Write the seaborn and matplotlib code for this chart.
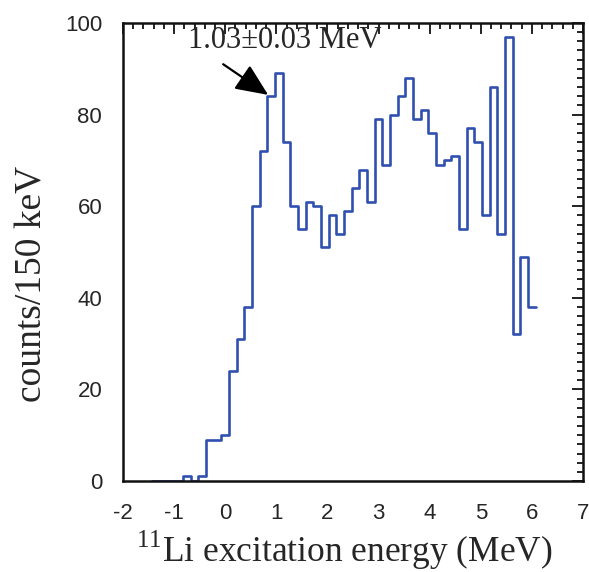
import numpy as np
import pandas as pd
import matplotlib
matplotlib.use("Agg")
import matplotlib.pyplot as plt
from matplotlib.ticker import MultipleLocator
import seaborn as sns

# Bin centres (MeV) and counts per 150 keV
bin_width = 0.15
centers = [-1.35, -1.2, -1.05, -0.9, -0.75, -0.6, -0.45, -0.3, -0.15, 0.0,
           0.15, 0.3, 0.45, 0.6, 0.75, 0.9, 1.05, 1.2, 1.35, 1.5,
           1.65, 1.8, 1.95, 2.1, 2.25, 2.4, 2.55, 2.7, 2.85, 3.0,
           3.15, 3.3, 3.45, 3.6, 3.75, 3.9, 4.05, 4.2, 4.35, 4.5,
           4.65, 4.8, 4.95, 5.1, 5.25, 5.4, 5.55, 5.7, 5.85, 6.0]
counts = [0, 0, 0, 0, 1, 0, 1, 9, 9, 10,
          24, 31, 38, 60, 72, 84, 89, 74, 60, 55,
          61, 60, 51, 58, 54, 59, 64, 68, 61, 79,
          69, 80, 84, 88, 79, 81, 76, 69, 70, 71,
          55, 77, 74, 58, 86, 54, 97, 32, 49, 38]

x_ticks = [-2, -1, 0, 1, 2, 3, 4, 5, 6, 7]
y_ticks = [0, 20, 40, 60, 80, 100]

annot_text = "1.03\u00b10.03 MeV"
arrow_tip = (0.84, 84.3)
arrow_tail = (-0.04, 91.0)
annot_text_xy = (-0.72, 96.2)

sns.set_style("white")
plt.rcParams["axes.unicode_minus"] = False
plt.rcParams["mathtext.fontset"] = "custom"
plt.rcParams["mathtext.rm"] = "Liberation Serif"

df = pd.DataFrame({"energy": centers, "counts": counts})
edges = [round(centers[0] - bin_width / 2 + i * bin_width, 4) for i in range(len(centers) + 1)]

fig = plt.figure(figsize=(5.89, 5.72), dpi=100)
ax = fig.add_axes([123 / 589, 91 / 572, 460 / 589, 458 / 572])

sns.histplot(data=df, x="energy", weights="counts", bins=edges,
             element="step", fill=False, color="#3050b0", linewidth=1.9, ax=ax)

ax.set_xlim(-2, 7)
ax.set_ylim(0, 100)
ax.set_xticks(x_ticks)
ax.set_yticks(y_ticks)
ax.xaxis.set_minor_locator(MultipleLocator(0.2))
ax.yaxis.set_minor_locator(MultipleLocator(2))
ax.tick_params(which="both", direction="in", top=True, right=True,
               color="#111111", width=1.3)
ax.tick_params(which="major", length=8)
ax.tick_params(which="minor", length=4)
ax.tick_params(axis="x", which="major", pad=16)
ax.tick_params(axis="y", which="major", pad=15)
for lab in ax.get_xticklabels() + ax.get_yticklabels():
    lab.set_fontfamily("Liberation Sans")
    lab.set_fontsize(16)
for sp in ax.spines.values():
    sp.set_linewidth(1.8)
    sp.set_color("#111111")

ax.set_xlabel(r"$^{11}$Li excitation energy (MeV)", fontfamily="Liberation Serif",
              fontsize=25.5)
ax.set_ylabel("counts/150 keV", fontfamily="Liberation Serif", fontsize=27)
ax.xaxis.set_label_coords(0.48, -0.105)
ax.yaxis.set_label_coords(-0.16, 0.43)

ax.text(annot_text_xy[0], annot_text_xy[1], annot_text, fontfamily="Liberation Serif",
        fontsize=22, va="center", ha="left")
ax.annotate("", xy=arrow_tip, xytext=arrow_tail, textcoords="data",
            arrowprops=dict(arrowstyle="-|>,head_length=0.5,head_width=0.22",
                            color="black", lw=1.6, mutation_scale=40,
                            shrinkA=0, shrinkB=0))

fig.savefig("out.png", dpi=100)
